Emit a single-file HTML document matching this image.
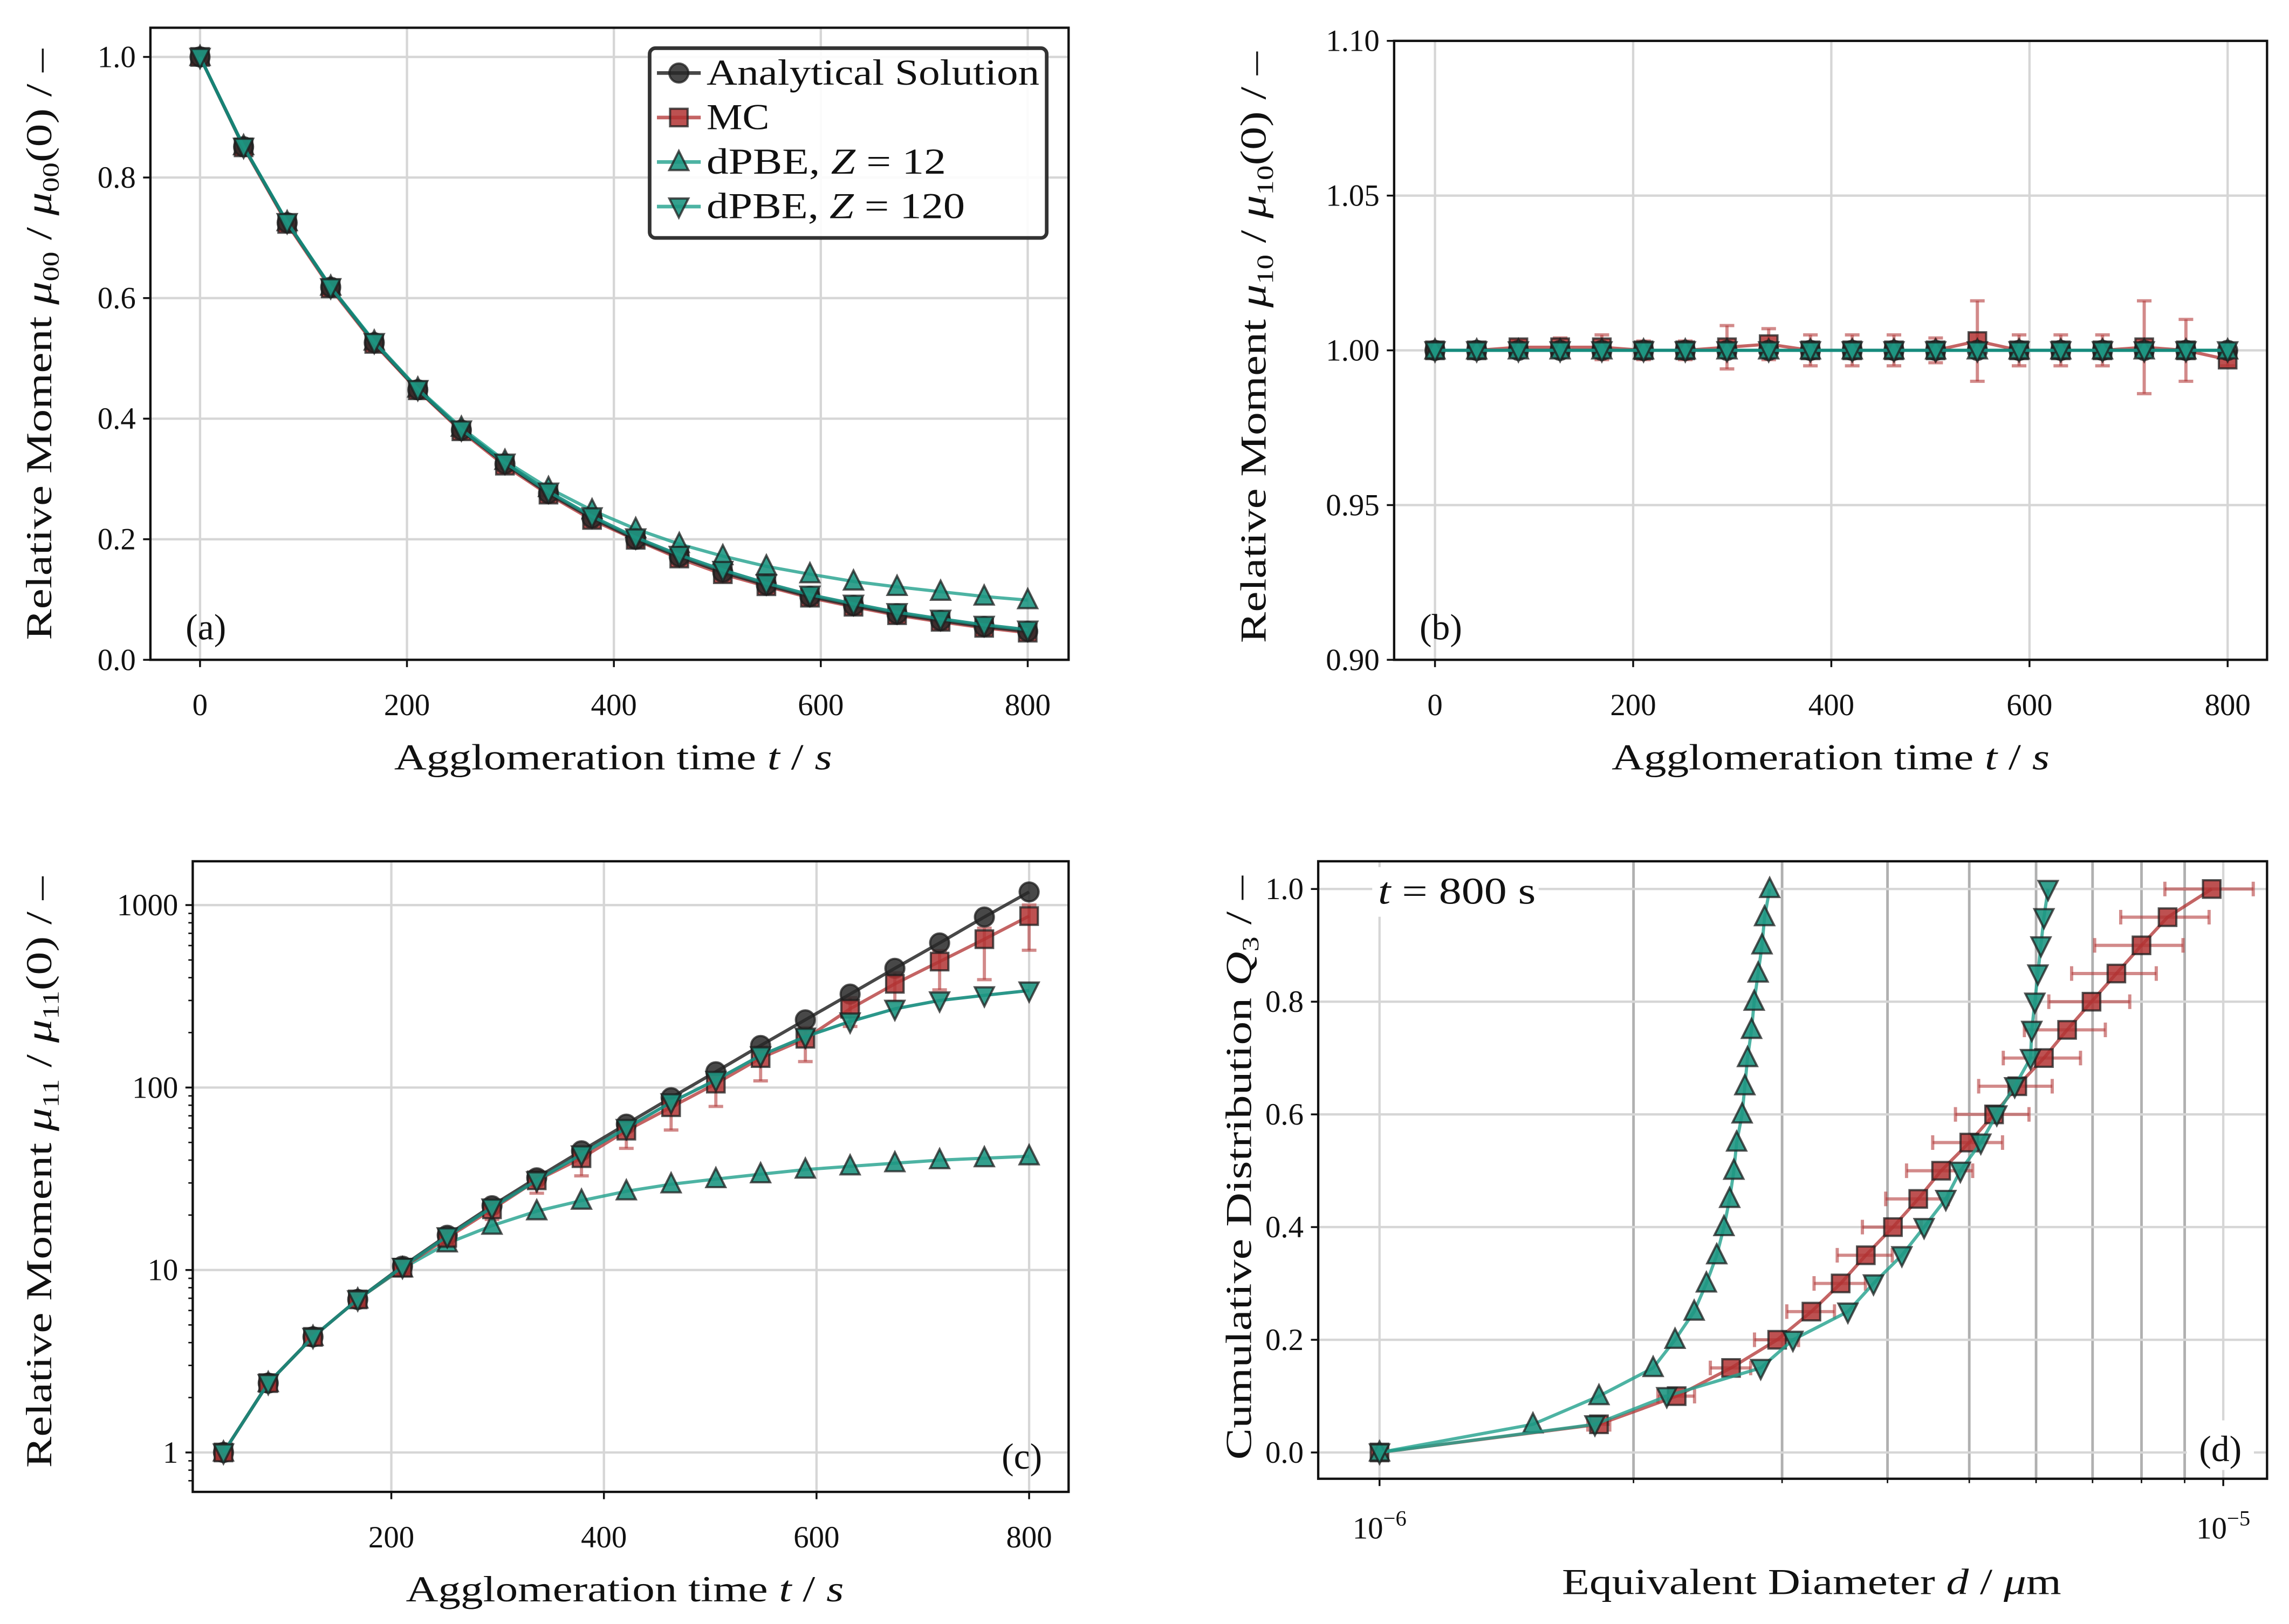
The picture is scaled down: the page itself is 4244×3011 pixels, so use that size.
<!DOCTYPE html>
<html><head><meta charset="utf-8"><style>
html,body{margin:0;padding:0;background:#fff}
svg{display:block}
text{font-family:"Liberation Serif","DejaVu Serif",serif;fill:#111}
</style></head><body>
<svg id="fig" xmlns="http://www.w3.org/2000/svg" width="4244" height="3011" viewBox="0 0 1568 1112.5">
<rect x="0" y="0" width="1568" height="1112.5" fill="#fff"/>
</svg>
<script>
// ---- data ----
const tA = [0,42.1,84.2,126.3,168.4,210.5,252.6,294.7,336.8,378.9,421.1,463.2,505.3,547.4,589.5,631.6,673.7,715.8,757.9,800];
const aAnalytic = [1.0,0.851,0.725,0.618,0.526,0.448,0.381,0.325,0.276,0.235,0.200,0.171,0.145,0.124,0.105,0.090,0.076,0.065,0.055,0.047];
const aMC = [1.0,0.850,0.723,0.616,0.524,0.447,0.379,0.322,0.274,0.232,0.199,0.168,0.142,0.122,0.103,0.088,0.074,0.063,0.053,0.045];
const aZ12 = [1.0,0.852,0.726,0.619,0.528,0.450,0.385,0.330,0.285,0.248,0.217,0.192,0.172,0.155,0.142,0.130,0.121,0.113,0.105,0.099];
const aZ120 = [1.0,0.851,0.726,0.618,0.527,0.449,0.382,0.327,0.279,0.238,0.203,0.174,0.149,0.127,0.108,0.093,0.079,0.068,0.058,0.050];
const bMC = [1.000,1.000,1.001,1.001,1.001,1.000,1.000,1.001,1.002,1.000,1.000,1.000,1.000,1.003,1.000,1.000,1.000,1.001,1.000,0.997];
const bErr = [0.001,0.001,0.002,0.003,0.004,0.003,0.003,0.007,0.005,0.005,0.005,0.005,0.004,0.013,0.005,0.005,0.005,0.015,0.010,0.002];
const bAnalytic = [1,1,1,1,1,1,1,1,1,1,1,1,1,1,1,1,1,1,1,1];
const bZ12 = [1,1,1,1,1,1,1,1,1,1,1,1,1,1,1,1,1,1,1,1];
const bZ120 = [1,1,1,1,1,1,1,1,1,1,1,1,1,1,1,1,1,1,1,1];
const tC = [42.1,84.2,126.3,168.4,210.5,252.6,294.7,336.8,378.9,421.1,463.2,505.3,547.4,589.5,631.6,673.7,715.8,757.9,800];
const cAnalytic = [1,2.4,4.3,6.9,10.5,15.5,22.5,32,45,63,88,122,170,235,325,450,620,860,1180];
const cMC = [1,2.4,4.3,6.9,10.3,15,21.5,31,41,58,78,105,145,185,270,370,490,650,870];
const cErrLo = [0.08,0.08,0.08,0.08,0.08,0.1,0.12,0.15,0.2,0.2,0.25,0.25,0.25,0.25,0.2,0.2,0.3,0.4,0.35];
const cErrHi = [0.08,0.08,0.08,0.08,0.08,0.1,0.12,0.12,0.12,0.12,0.12,0.12,0.15,0.15,0.15,0.15,0.15,0.15,0.15];
const cZ12 = [1,2.4,4.3,6.9,10.2,14,17.5,21,24,27,29.5,31.5,33.5,35.5,37,38.5,40,41,42];
const cZ120 = [1,2.4,4.3,6.9,10.4,15.3,22,31,43,60,83,110,150,190,230,270,300,320,340];
const qD = [0,0.05,0.10,0.15,0.20,0.25,0.30,0.35,0.40,0.45,0.50,0.55,0.60,0.65,0.70,0.75,0.80,0.85,0.90,0.95,1.0];
const dZ12 = [1.0,1.52,1.82,2.11,2.24,2.36,2.44,2.51,2.56,2.60,2.63,2.65,2.69,2.71,2.73,2.76,2.78,2.81,2.84,2.86,2.90];
const dZ120 = [1.0,1.80,2.19,2.83,3.09,3.59,3.85,4.16,4.42,4.69,4.88,5.16,5.39,5.66,5.91,5.93,5.98,6.03,6.08,6.13,6.20];
const dMC = [1.0,1.82,2.25,2.61,2.96,3.25,3.52,3.77,4.06,4.35,4.63,5.00,5.35,5.70,6.13,6.53,6.98,7.47,8.00,8.59,9.69];
const dErr = [0,0.03,0.05,0.055,0.06,0.065,0.07,0.075,0.08,0.085,0.09,0.095,0.10,0.10,0.105,0.11,0.11,0.115,0.12,0.12,0.12];
const tickA = ["0.0","0.2","0.4","0.6","0.8","1.0"];
const tickB = ["0.90","0.95","1.00","1.05","1.10"];
const tickC = ["1","10","100","1000"];
const tickQ = ["0.0","0.2","0.4","0.6","0.8","1.0"];
const tickT = ["0","200","400","600","800"];

const NS="http://www.w3.org/2000/svg";
const svg=document.getElementById('fig');
function mk(tag,attrs,parent){const e=document.createElementNS(NS,tag);for(const k in attrs)e.setAttribute(k,attrs[k]);(parent||svg).appendChild(e);return e;}
const C_AN="rgba(40,40,40,0.85)", C_MC="rgba(176,48,48,0.75)", C_MCF="rgba(178,50,50,0.85)", C_TL="rgba(32,160,140,0.8)", C_TF="rgba(30,150,130,0.9)", EDGE="rgba(30,30,30,0.75)";
const TS=21;
function marker(g,type,x,y,fill,s){
  s=s||6.5; let e;
  if(type==='o') e=mk('circle',{cx:x,cy:y,r:s},g);
  else if(type==='s') e=mk('rect',{x:x-s+0.5,y:y-s+0.5,width:2*s-1,height:2*s-1},g);
  else if(type==='^') e=mk('polygon',{points:`${x},${y-s-1} ${x-s},${y+s-1} ${x+s},${y+s-1}`},g);
  else e=mk('polygon',{points:`${x},${y+s+1} ${x-s},${y-s+1} ${x+s},${y-s+1}`},g);
  e.setAttribute('fill',fill);e.setAttribute('stroke',EDGE);e.setAttribute('stroke-width','1.5');
  
  
  return e;
}
function series(g,xs,ys,sx,sy,color,mtype,mfill,name){
  const sg=mk('g',{},g);
  
  
  const pts=xs.map((x,i)=>sx(x)+','+sy(ys[i])).join(' ');
  mk('polyline',{points:pts,fill:'none',stroke:color,'stroke-width':2.2},sg);
  xs.forEach((x,i)=>marker(sg,mtype,sx(x),sy(ys[i]),mfill));
}
function txt(g,x,y,s,size,anchor,extra,len){const a=Object.assign({x:x,y:y,'font-size':size,'text-anchor':anchor||'middle'},extra||{});if(len){a.textLength=len;a.lengthAdjust='spacingAndGlyphs';}const t=mk('text',a,g);t.innerHTML=s;return t;}
function frame(g,x0,y0,x1,y1){mk('rect',{x:x0,y:y0,width:x1-x0,height:y1-y0,fill:'none',stroke:'#111','stroke-width':1.6},g);}

// ===== Panel A =====
(function(){
 const g=mk('g',{});
 const X0=103,X1=732,Y0=19,Y1=452;
 const sx=t=>137+t*0.70875, sy=v=>452-v*413;
 [0,200,400,600,800].forEach((t,i)=>{mk('line',{x1:sx(t),x2:sx(t),y1:Y0,y2:Y1,stroke:'#d6d6d6','stroke-width':1.6},g);
   mk('line',{x1:sx(t),x2:sx(t),y1:Y1,y2:Y1+5,stroke:'#111','stroke-width':1.3},g);txt(g,sx(t),Y1+38,tickT[i],TS);});
 tickA.forEach((l,i)=>{const y=sy(i*0.2);mk('line',{x1:X0,x2:X1,y1:y,y2:y,stroke:'#d6d6d6','stroke-width':1.6},g);
   mk('line',{x1:X0-5,x2:X0,y1:y,y2:y,stroke:'#111','stroke-width':1.3},g);txt(g,X0-10,y+7,l,TS,'end');});
 series(g,tA,aZ12,sx,sy,C_TL,'^',C_TF,'series-dpbe-z12');
 series(g,tA,aMC,sx,sy,C_MC,'s',C_MCF,'series-mc');
 series(g,tA,aAnalytic,sx,sy,C_AN,'o','rgba(40,40,40,0.85)','series-analytical');
 series(g,tA,aZ120,sx,sy,'rgba(20,140,125,0.9)','v',C_TF,'series-dpbe-z120');
 frame(g,X0,Y0,X1,Y1);
 txt(g,141,438,'(a)',25);
 txt(g,420,527,'Agglomeration time <tspan font-style="italic">t</tspan> / <tspan font-style="italic">s</tspan>',25,'middle',{},300);
 const yl=txt(g,0,0,'Relative Moment <tspan font-style="italic">μ</tspan><tspan font-size="16" dy="5">00</tspan><tspan dy="-5"> / </tspan><tspan font-style="italic">μ</tspan><tspan font-size="16" dy="5">00</tspan><tspan dy="-5">(0) / –</tspan>',25,'middle',{transform:'translate(35,236) rotate(-90)'},405);
 
 // legend
 const lg=mk('g',{},g);
 mk('rect',{x:445,y:33,width:272,height:130,rx:4,fill:'rgba(255,255,255,0.9)',stroke:'#333','stroke-width':2.5},lg);
 const ents=[['Analytical Solution',C_AN,'o','rgba(40,40,40,0.85)',228],['MC',C_MC,'s',C_MCF,43],['dPBE, <tspan font-style="italic">Z</tspan> = 12',C_TL,'^',C_TF,164],['dPBE, <tspan font-style="italic">Z</tspan> = 120',C_TL,'v',C_TF,177]];
 ents.forEach((e,i)=>{const y=50+i*30.5;const eg=mk('g',{},lg);
   mk('line',{x1:450,x2:480,y1:y,y2:y,stroke:e[1],'stroke-width':2.5},eg);marker(eg,e[2],465,y,e[3]);txt(eg,484,y+8,e[0],25,'start',{},e[4]);});
})();

// ===== Panel B =====
(function(){
 const g=mk('g',{});
 const X0=955,X1=1553,Y0=28,Y1=452;
 const sx=t=>983+t*0.67875, sy=v=>240-(v-1)*2120;
 [0,200,400,600,800].forEach((t,i)=>{mk('line',{x1:sx(t),x2:sx(t),y1:Y0,y2:Y1,stroke:'#d6d6d6','stroke-width':1.6},g);
   mk('line',{x1:sx(t),x2:sx(t),y1:Y1,y2:Y1+5,stroke:'#111','stroke-width':1.3},g);txt(g,sx(t),Y1+38,tickT[i],TS);});
 tickB.forEach((l,i)=>{const y=sy(0.9+i*0.05);mk('line',{x1:X0,x2:X1,y1:y,y2:y,stroke:'#d6d6d6','stroke-width':1.6},g);
   mk('line',{x1:X0-5,x2:X0,y1:y,y2:y,stroke:'#111','stroke-width':1.3},g);txt(g,X0-10,y+7,l,TS,'end');});
 const eg=mk('g',{},g);
 tA.forEach((t,i)=>{const x=sx(t),ya=sy(bMC[i]-bErr[i]),yb=sy(bMC[i]+bErr[i]);
   mk('line',{x1:x,x2:x,y1:ya,y2:yb,stroke:'rgba(180,60,60,0.6)','stroke-width':2.2},eg);
   mk('line',{x1:x-5,x2:x+5,y1:ya,y2:ya,stroke:'rgba(180,60,60,0.6)','stroke-width':2.2},eg);
   mk('line',{x1:x-5,x2:x+5,y1:yb,y2:yb,stroke:'rgba(180,60,60,0.6)','stroke-width':2.2},eg);});
 series(g,tA,bMC,sx,sy,C_MC,'s',C_MCF,'series-mc');
 series(g,tA,bAnalytic,sx,sy,C_AN,'o','rgba(40,40,40,0.85)','series-analytical');
 series(g,tA,bZ12,sx,sy,C_TL,'^',C_TF,'series-dpbe-z12');
 series(g,tA,bZ120,sx,sy,'rgba(20,140,125,0.9)','v',C_TF,'series-dpbe-z120');
 frame(g,X0,Y0,X1,Y1);
 txt(g,987,438,'(b)',25);
 txt(g,1254,527,'Agglomeration time <tspan font-style="italic">t</tspan> / <tspan font-style="italic">s</tspan>',25,'middle',{},300);
 txt(g,0,0,'Relative Moment <tspan font-style="italic">μ</tspan><tspan font-size="16" dy="5">10</tspan><tspan dy="-5"> / </tspan><tspan font-style="italic">μ</tspan><tspan font-size="16" dy="5">10</tspan><tspan dy="-5">(0) / –</tspan>',25,'middle',{transform:'translate(867,238) rotate(-90)'},405);
})();

// ===== Panel C =====
(function(){
 const g=mk('g',{});
 const X0=132,X1=732,Y0=590,Y1=1022;
 const sx=t=>122.4+t*0.7282, sy=v=>995-Math.log10(v)*125;
 [200,400,600,800].forEach((t,i)=>{mk('line',{x1:sx(t),x2:sx(t),y1:Y0,y2:Y1,stroke:'#d6d6d6','stroke-width':1.6},g);
   mk('line',{x1:sx(t),x2:sx(t),y1:Y1,y2:Y1+5,stroke:'#111','stroke-width':1.3},g);txt(g,sx(t),Y1+38,tickT[i+1],TS);});
 tickC.forEach((l,i)=>{const y=sy(Math.pow(10,i));mk('line',{x1:X0,x2:X1,y1:y,y2:y,stroke:'#d6d6d6','stroke-width':1.6},g);
   mk('line',{x1:X0-5,x2:X0,y1:y,y2:y,stroke:'#111','stroke-width':1.3},g);txt(g,X0-10,y+7,l,TS,'end');});
 for(let d=0;d<4;d++)for(let m=2;m<10;m++){const v=Math.pow(10,d)*m;const y=sy(v);if(y>Y0&&y<Y1)mk('line',{x1:X0-3,x2:X0,y1:y,y2:y,stroke:'#111','stroke-width':1},g);}
 [0.6,0.7,0.8,0.9].forEach(v=>{const y=sy(v);if(y<Y1)mk('line',{x1:X0-3,x2:X0,y1:y,y2:y,stroke:'#111','stroke-width':1},g);});
 const eg=mk('g',{},g);
 tC.forEach((t,i)=>{const x=sx(t),ya=sy(cMC[i]*(1-cErrLo[i])),yb=sy(cMC[i]*(1+cErrHi[i]));
   mk('line',{x1:x,x2:x,y1:ya,y2:yb,stroke:'rgba(180,60,60,0.6)','stroke-width':2.2},eg);
   mk('line',{x1:x-5,x2:x+5,y1:ya,y2:ya,stroke:'rgba(180,60,60,0.6)','stroke-width':2.2},eg);
   mk('line',{x1:x-5,x2:x+5,y1:yb,y2:yb,stroke:'rgba(180,60,60,0.6)','stroke-width':2.2},eg);});
 series(g,tC,cZ12,sx,sy,C_TL,'^',C_TF,'series-dpbe-z12');
 series(g,tC,cAnalytic,sx,sy,C_AN,'o','rgba(40,40,40,0.85)','series-analytical');
 series(g,tC,cMC,sx,sy,C_MC,'s',C_MCF,'series-mc');
 series(g,tC,cZ120,sx,sy,'rgba(20,140,125,0.9)','v',C_TF,'series-dpbe-z120');
 frame(g,X0,Y0,X1,Y1);
 txt(g,700,1006,'(c)',25);
 txt(g,428,1097,'Agglomeration time <tspan font-style="italic">t</tspan> / <tspan font-style="italic">s</tspan>',25,'middle',{},300);
 txt(g,0,0,'Relative Moment <tspan font-style="italic">μ</tspan><tspan font-size="16" dy="5">11</tspan><tspan dy="-5"> / </tspan><tspan font-style="italic">μ</tspan><tspan font-size="16" dy="5">11</tspan><tspan dy="-5">(0) / –</tspan>',25,'middle',{transform:'translate(35,803) rotate(-90)'},405);
})();

// ===== Panel D =====
(function(){
 const g=mk('g',{});
 const X0=903,X1=1553,Y0=590,Y1=1013;
 const sx=d=>945+Math.log10(d)*578, sy=q=>995-q*386;
 [2,3,4,5,6,7,8,9].forEach(m=>{const x=sx(m);mk('line',{x1:x,x2:x,y1:Y0,y2:Y1,stroke:'#b0b0b0','stroke-width':1.8},g);
   mk('line',{x1:x,x2:x,y1:Y1,y2:Y1+3,stroke:'#111','stroke-width':1},g);});
 [1,10].forEach(m=>{const x=sx(m);mk('line',{x1:x,x2:x,y1:Y0,y2:Y1,stroke:'#d6d6d6','stroke-width':1.6},g);
   mk('line',{x1:x,x2:x,y1:Y1,y2:Y1+5,stroke:'#111','stroke-width':1.3},g);});
 txt(g,sx(1),Y1+41,'10<tspan font-size="15" dy="-9">−6</tspan>',TS);
 txt(g,sx(10),Y1+41,'10<tspan font-size="15" dy="-9">−5</tspan>',TS);
 tickQ.forEach((l,i)=>{const y=sy(i*0.2);mk('line',{x1:X0,x2:X1,y1:y,y2:y,stroke:'#d6d6d6','stroke-width':1.6},g);
   mk('line',{x1:X0-5,x2:X0,y1:y,y2:y,stroke:'#111','stroke-width':1.3},g);txt(g,X0-10,y+7,l,TS,'end');});
 const eg=mk('g',{},g);
 qD.forEach((q,i)=>{if(!dErr[i])return;const y=sy(q),xa=sx(dMC[i]*(1-dErr[i])),xb=sx(dMC[i]*(1+dErr[i]));
   mk('line',{x1:xa,x2:xb,y1:y,y2:y,stroke:'rgba(180,60,60,0.6)','stroke-width':2.2},eg);
   mk('line',{x1:xa,x2:xa,y1:y-5,y2:y+5,stroke:'rgba(180,60,60,0.6)','stroke-width':2.2},eg);
   mk('line',{x1:xb,x2:xb,y1:y-5,y2:y+5,stroke:'rgba(180,60,60,0.6)','stroke-width':2.2},eg);});
 const swap=(ys,name,c,m,f)=>{const sg=mk('g',{},g);
   mk('polyline',{points:qD.map((q,i)=>sx(ys[i])+','+sy(q)).join(' '),fill:'none',stroke:c,'stroke-width':2.2},sg);
   qD.forEach((q,i)=>marker(sg,m,sx(ys[i]),sy(q),f));};
 swap(dMC,'series-mc',C_MC,'s',C_MCF);
 swap(dZ12,'series-dpbe-z12',C_TL,'^',C_TF);
 swap(dZ120,'series-dpbe-z120',C_TL,'v',C_TF);
 frame(g,X0,Y0,X1,Y1);
 mk('rect',{x:940,y:594,width:114,height:34,fill:'#fff'},g);
 txt(g,944,619,'<tspan font-style="italic">t</tspan> = 800 s',26,'start',{},108);
 mk('rect',{x:1498,y:973,width:46,height:34,fill:'#fff'},g);
 txt(g,1521,1001,'(d)',25);
 txt(g,1241,1092,'Equivalent Diameter <tspan font-style="italic">d</tspan> / <tspan font-style="italic">μ</tspan>m',25,'middle',{},342);
 txt(g,0,0,'Cumulative Distribution <tspan font-style="italic">Q</tspan><tspan font-size="16" dy="5">3</tspan><tspan dy="-5"> / –</tspan>',25,'middle',{transform:'translate(857,800) rotate(-90)'},400);
})();
</script>
</body></html>
